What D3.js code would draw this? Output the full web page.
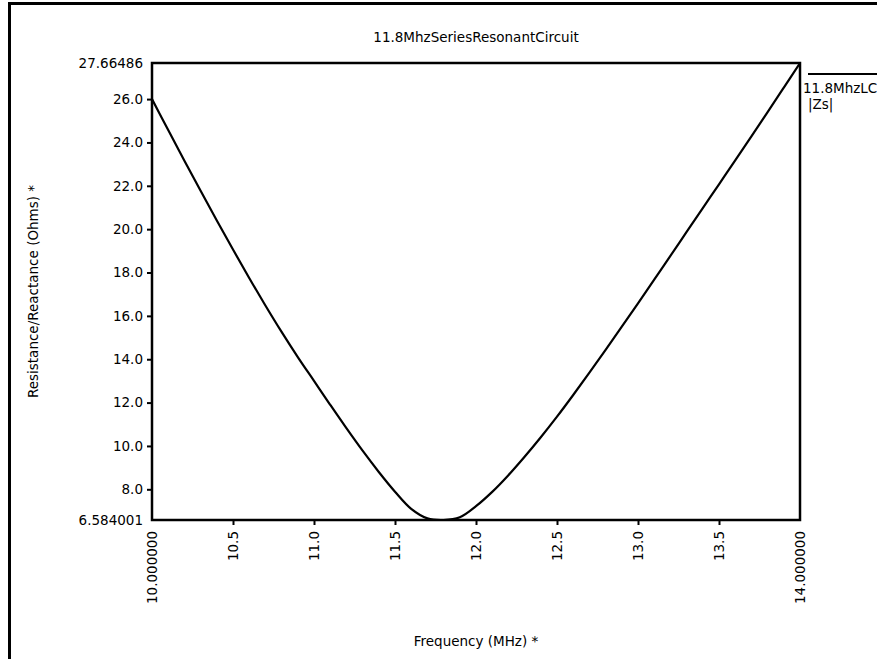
<!DOCTYPE html>
<html>
<head>
<meta charset="utf-8">
<script src="https://cdn.jsdelivr.net/npm/d3@7"></script>
<style>
  body { margin: 0; background: #fff; }
  svg text { font-family: "DejaVu Sans", Verdana, sans-serif; fill: #000; }
</style>
</head>
<body>
<div id="chart"></div>
<script>
// chart values
var freqMHz = [10.0, 10.1, 10.2, 10.3, 10.4, 10.5, 10.6, 10.7, 10.8, 10.9,
  11.0, 11.1, 11.2, 11.3, 11.4, 11.5, 11.6, 11.7, 11.8, 11.9,
  12.0, 12.1, 12.2, 12.3, 12.4, 12.5, 12.6, 12.7, 12.8, 12.9,
  13.0, 13.1, 13.2, 13.3, 13.4, 13.5, 13.6, 13.7, 13.8, 13.9, 14.0];
var zsOhms = [26.0, 24.57, 23.16, 21.77, 20.40, 19.06, 17.75, 16.48, 15.26, 14.10,
  13.0, 11.9, 10.82, 9.78, 8.80, 7.89, 7.10, 6.66, 6.584001, 6.71,
  7.22, 7.88, 8.65, 9.5, 10.4, 11.35, 12.35, 13.38, 14.43, 15.5,
  16.58, 17.67, 18.77, 19.87, 20.97, 22.07, 23.17, 24.28, 25.4, 26.53, 27.66486];
var yTicks = [8, 10, 12, 14, 16, 18, 20, 22, 24, 26];
var xTicks = [10.5, 11.0, 11.5, 12.0, 12.5, 13.0, 13.5];
var yEndLabels = ["6.584001", "27.66486"];
var xEndLabels = ["10.000000", "14.000000"];
var chartTitle = "11.8MhzSeriesResonantCircuit";
var xTitle = "Frequency (MHz) *";
var yTitle = "Resistance/Reactance (Ohms) *";
var legendLines = ["11.8MhzLC", "|Zs|"];

var width = 877, height = 659;
var plot = { left: 152, right: 800, top: 63, bottom: 520 };
var fontSize = 13.5;

var svg = d3.select("#chart").append("svg")
  .attr("width", width)
  .attr("height", height);

svg.append("clipPath").attr("id", "plotclip")
  .append("rect")
  .attr("x", plot.left).attr("y", plot.top - 2)
  .attr("width", plot.right - plot.left).attr("height", plot.bottom - plot.top + 2);

// outer frame (runs off the right and bottom edges)
svg.append("rect")
  .attr("x", 9.5).attr("y", 3.5)
  .attr("width", width + 10).attr("height", height + 10)
  .attr("fill", "none").attr("stroke", "#000").attr("stroke-width", 3);

var x = d3.scaleLinear().domain([10, 14]).range([plot.left, plot.right]);
var y = d3.scaleLinear().domain([6.584001, 27.66486]).range([plot.bottom, plot.top]);

// y axis ticks
var yAxis = d3.axisLeft(y).tickValues(yTicks).tickFormat(d3.format(".1f"))
  .tickSizeInner(5).tickSizeOuter(0).tickPadding(4);
var gy = svg.append("g").attr("transform", "translate(" + plot.left + ",0)").call(yAxis);
gy.select(".domain").remove();
gy.selectAll("line").attr("stroke-width", 2);
gy.selectAll("text").style("font-size", fontSize + "px");

// x axis ticks, labels turned on their side
var xAxis = d3.axisBottom(x).tickValues(xTicks).tickFormat(d3.format(".1f"))
  .tickSizeInner(5).tickSizeOuter(0);
var gx = svg.append("g").attr("transform", "translate(0," + plot.bottom + ")").call(xAxis);
gx.select(".domain").remove();
gx.selectAll("line").attr("stroke-width", 2);
gx.selectAll("text")
  .style("font-size", fontSize + "px")
  .attr("transform", "rotate(-90)")
  .attr("x", -11).attr("y", 0).attr("dy", "0.35em")
  .attr("text-anchor", "end");

// end labels of both axes
svg.selectAll(".yend").data(yEndLabels).enter().append("text")
  .attr("class", "yend")
  .attr("x", plot.left - 9)
  .attr("y", function(d) { return y(+d); })
  .attr("dy", "0.35em")
  .attr("text-anchor", "end")
  .style("font-size", fontSize + "px")
  .text(function(d) { return d; });

svg.selectAll(".xend").data(xEndLabels).enter().append("text")
  .attr("class", "xend")
  .attr("transform", function(d) {
    return "translate(" + x(+d) + "," + (plot.bottom + 11) + ") rotate(-90)";
  })
  .attr("dy", "0.35em")
  .attr("text-anchor", "end")
  .style("font-size", fontSize + "px")
  .text(function(d) { return d; });

// the |Zs| curve
var line = d3.line()
  .x(function(d, i) { return x(freqMHz[i]); })
  .y(function(d) { return y(d); })
  .curve(d3.curveCatmullRom.alpha(0.5));

svg.append("path")
  .datum(zsOhms)
  .attr("clip-path", "url(#plotclip)")
  .attr("d", line)
  .attr("fill", "none")
  .attr("stroke", "#000")
  .attr("stroke-width", 2.2);

// plot box
svg.append("rect")
  .attr("x", plot.left).attr("y", plot.top)
  .attr("width", plot.right - plot.left).attr("height", plot.bottom - plot.top)
  .attr("fill", "none").attr("stroke", "#000").attr("stroke-width", 2.5);

// titles
svg.append("text")
  .attr("x", (plot.left + plot.right) / 2).attr("y", 42)
  .attr("text-anchor", "middle")
  .style("font-size", fontSize + "px")
  .text(chartTitle);

svg.append("text")
  .attr("x", (plot.left + plot.right) / 2).attr("y", 646)
  .attr("text-anchor", "middle")
  .style("font-size", fontSize + "px")
  .text(xTitle);

svg.append("text")
  .attr("transform", "translate(38," + ((plot.top + plot.bottom) / 2) + ") rotate(-90)")
  .attr("text-anchor", "middle")
  .style("font-size", fontSize + "px")
  .text(yTitle);

// legend
svg.append("line")
  .attr("x1", 808).attr("x2", width)
  .attr("y1", 74).attr("y2", 74)
  .attr("stroke", "#000").attr("stroke-width", 2);

svg.selectAll(".leg").data(legendLines).enter().append("text")
  .attr("class", "leg")
  .attr("x", function(d, i) { return i === 0 ? 803 : 808; })
  .attr("y", function(d, i) { return 93 + i * 16; })
  .style("font-size", fontSize + "px")
  .text(function(d) { return d; });
</script>
</body>
</html>
